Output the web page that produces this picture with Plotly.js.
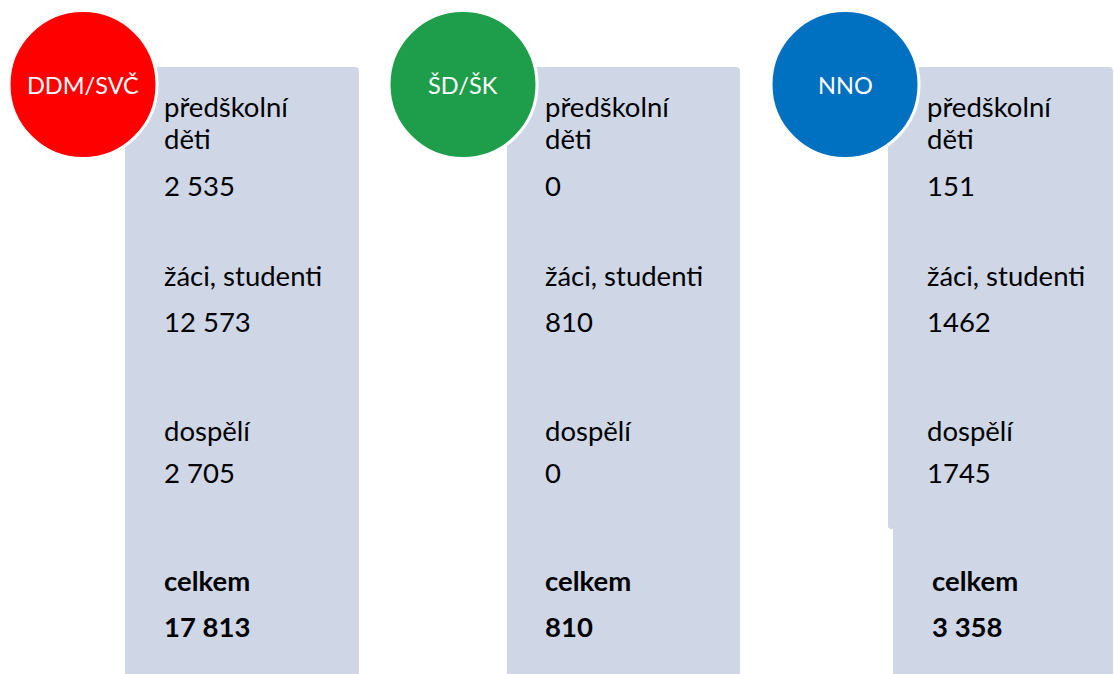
<!DOCTYPE html>
<html>
<head>
<meta charset="utf-8">
<script src="https://cdn.plot.ly/plotly-3.0.1.min.js"></script>
<style>html,body{margin:0;padding:0;background:#fff;}#chart{width:1114px;height:674px;}</style>
</head>
<body>
<div id="chart"></div>
<script>
// ---- data ----
const groups = ['DDM/SVČ', 'ŠD/ŠK', 'NNO'];
const categories = ['předškolní<br>děti', 'žáci, studenti', 'dospělí'];
const totalLabel = 'celkem';
const preschool = ['2 535', '0', '151'];
const pupils = ['12 573', '810', '1462'];
const adults = ['2 705', '0', '1745'];
const totals = ['17 813', '810', '3 358'];

// ---- styles / layout ----
const circleColors = ['#FF0000', '#1E9E4A', '#0070C0'];
const panelColor = '#CFD7E7';
const circleCx = [83, 463, 845];
const circleR = 74;
const circleCy = 84.5;
const panelLeft = [125, 507, 888];
const panelRight = [359, 740, 1113];
const panelTop = 67;
const textX = [162, 543, 925];
const totalX = [162, 543, 930];
const font = 'Lato, "Open Sans", sans-serif';
const bodySize = 27.5;

const shapes = [];
const annotations = [];

function addText(x, y, t, bold) {
  annotations.push({x: x, y: y, text: bold ? '<b>' + t + '</b>' : t, showarrow: false,
    xanchor: 'left', yanchor: 'middle', align: 'left',
    font: {family: font, size: bodySize, color: '#000000'}});
}

groups.forEach((g, i) => {
  const L = panelLeft[i], R = panelRight[i], T = panelTop, r = 4;
  if (i === 2) {
    shapes.push({type: 'path', xref: 'x', yref: 'y', layer: 'below',
      path: `M ${L} ${T} L ${R - r} ${T} Q ${R} ${T} ${R} ${T + r} L ${R} 674 L ${L + 5} 674 L ${L + 5} 529 L ${L + 3} 529 Q ${L} 529 ${L} 526 Z`,
      fillcolor: panelColor, line: {width: 0}});
  } else {
    shapes.push({type: 'path', xref: 'x', yref: 'y', layer: 'below',
      path: `M ${L} ${T} L ${R - r} ${T} Q ${R} ${T} ${R} ${T + r} L ${R} 674 L ${L} 674 Z`,
      fillcolor: panelColor, line: {width: 0}});
  }
  shapes.push({type: 'circle', xref: 'x', yref: 'y', layer: 'above',
    x0: circleCx[i] - circleR, x1: circleCx[i] + circleR,
    y0: circleCy - circleR, y1: circleCy + circleR,
    fillcolor: circleColors[i], line: {color: '#FFFFFF', width: 3}});

  annotations.push({x: circleCx[i], y: circleCy, text: g, showarrow: false,
    xanchor: 'center', yanchor: 'middle',
    font: {family: font, size: 23.5, color: '#FFFFFF'}});

  const catLines = categories[0].split('<br>');
  addText(textX[i], 106, catLines[0]);
  addText(textX[i], 138, catLines[1]);
  addText(textX[i], 185, preschool[i]);
  addText(textX[i], 275, categories[1]);
  addText(textX[i], 321, pupils[i]);
  addText(textX[i], 430, categories[2]);
  addText(textX[i], 472, adults[i]);
  addText(totalX[i], 580, totalLabel, true);
  addText(totalX[i], 626, totals[i], true);
});

const layout = {
  width: 1114, height: 674,
  margin: {l: 0, r: 0, t: 0, b: 0, pad: 0},
  paper_bgcolor: '#FFFFFF', plot_bgcolor: '#FFFFFF',
  xaxis: {range: [0, 1114], visible: false, fixedrange: true},
  yaxis: {range: [674, 0], visible: false, fixedrange: true},
  showlegend: false,
  shapes: shapes,
  annotations: annotations
};

Plotly.newPlot('chart', [{x: [], y: [], type: 'scatter', mode: 'markers', hoverinfo: 'skip'}], layout, {staticPlot: true, displayModeBar: false});
</script>
</body>
</html>
